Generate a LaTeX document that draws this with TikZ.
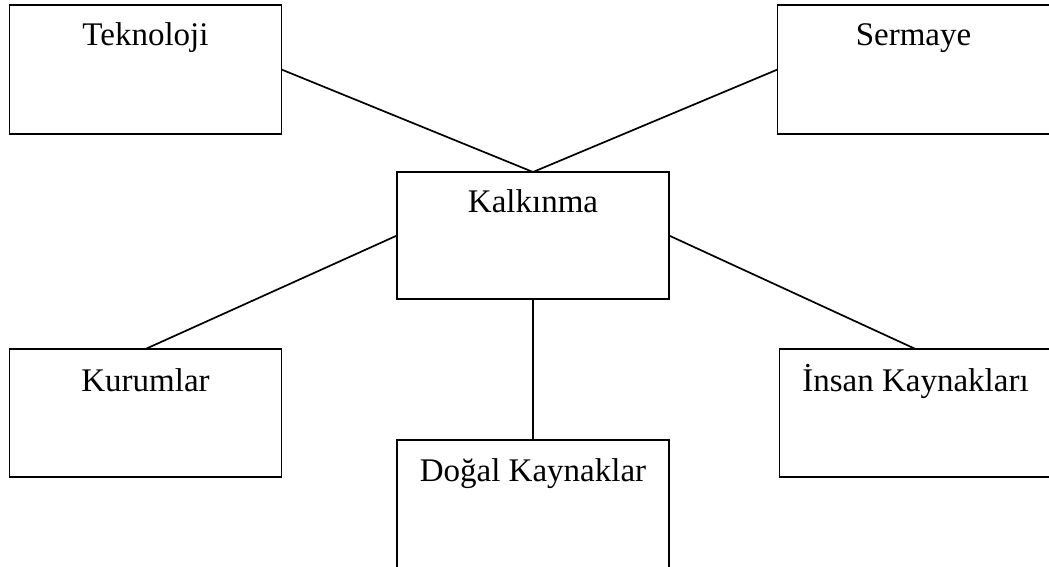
\documentclass[tikz,border=0pt]{standalone}
\usepackage{fontspec}
\setmainfont{Liberation Serif}
\begin{document}
\begin{tikzpicture}[x=1pt,y=-1pt,
  box/.style={draw=black,line width=1.9pt,rectangle,inner sep=0pt,outer sep=0pt,minimum width=272pt,minimum height=128pt},
  lbl/.style={anchor=base,inner sep=0pt,font=\fontsize{33}{39}\selectfont},
  conn/.style={draw=black,line width=1.7pt}]
\useasboundingbox (0,0) rectangle (1049,566);
\clip (0,0) rectangle (1049,566);
\node[box,minimum height=129pt] (tek) at (145.5,69.5) {};
\node[box,minimum height=129pt] (ser) at (913.5,69.5) {};
\node[box,minimum height=127pt] (kal) at (533,235.5) {};
\node[box] (kur) at (145.5,413) {};
\node[box] (ins) at (915.5,413) {};
\node[box] (dog) at (533,504) {};
\node[lbl] (tektxt) at ([yshift=-40pt]tek.north) {Teknoloji};
\node[lbl] (sertxt) at ([yshift=-40pt]ser.north) {Sermaye};
\node[lbl] (kaltxt) at ([yshift=-40pt]kal.north) {Kalkınma};
\node[lbl] (kurtxt) at ([yshift=-42pt]kur.north) {Kurumlar};
\node[lbl] (instxt) at ([yshift=-42pt]ins.north) {İnsan Kaynakları};
\node[lbl] (dogtxt) at ([yshift=-41pt]dog.north) {Doğal Kaynaklar};
\draw[conn] (tek.east) -- (kal.north);
\draw[conn] (ser.west) -- (kal.north);
\draw[conn] (kal.west) -- (kur.north);
\draw[conn] (kal.east) -- (ins.north);
\draw[conn] (kal.south) -- (dog.north);
\end{tikzpicture}
\end{document}
